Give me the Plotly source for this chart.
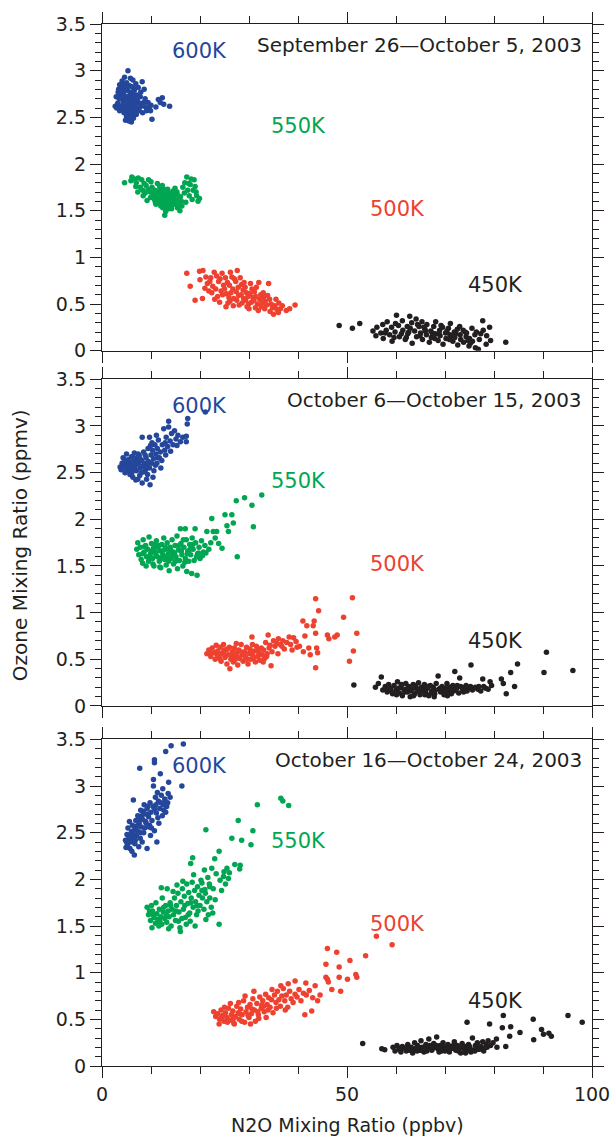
import plotly.graph_objects as go

# ---- Ozone vs N2O, grouped by potential-temperature level ----

period_titles = [
    "September 26\u2014October 5, 2003",
    "October 6\u2014October 15, 2003",
    "October 16\u2014October 24, 2003",
]
levels = ["600K", "550K", "500K", "450K"]
level_colors = ["#25479b", "#00a651", "#ee4130", "#231f20"]

# Period 1: September 26 - October 5
p1_600k = [(5.3,3.00),(4.6,2.93),(5.8,2.92),(4.1,2.89),(6.3,2.90),(5.0,2.87),(6.9,2.86),(3.6,2.85),(4.4,2.84),(5.5,2.84),(6.0,2.83),(3.9,2.81),(7.4,2.82),(4.8,2.80),(5.2,2.79),(6.6,2.79),(3.3,2.77),(4.2,2.76),(5.7,2.77),(6.2,2.75),(7.0,2.74),(3.7,2.74),(4.6,2.73),(5.1,2.72),(8.2,2.88),(8.6,2.80),(2.9,2.72),(3.5,2.70),(4.0,2.70),(4.9,2.69),(5.6,2.70),(6.4,2.69),(7.2,2.68),(2.7,2.62),(3.2,2.65),(4.3,2.66),(5.3,2.66),(6.0,2.65),(6.8,2.64),(7.7,2.65),(3.8,2.62),(4.7,2.62),(5.5,2.61),(6.3,2.61),(7.3,2.60),(8.0,2.62),(8.9,2.61),(9.6,2.60),(3.0,2.60),(4.1,2.58),(5.0,2.58),(5.8,2.57),(6.6,2.56),(7.6,2.57),(9.1,2.57),(4.5,2.55),(5.4,2.54),(6.1,2.53),(7.0,2.53),(8.3,2.55),(5.0,2.51),(5.7,2.50),(6.4,2.49),(4.8,2.47),(5.5,2.46),(6.0,2.45),(10.2,2.48),(11.5,2.69),(12.3,2.71),(11.9,2.66),(12.6,2.64),(13.8,2.62),(11.0,2.61),(8.8,2.70),(7.8,2.72),(6.7,2.72),(5.9,2.74),(4.5,2.78),(5.1,2.83),(6.5,2.81),(3.4,2.80),(7.9,2.77),(9.4,2.66),(10.0,2.63),(6.9,2.59),(5.2,2.63),(4.4,2.61),(3.6,2.57),(8.5,2.66),(9.9,2.57)]
p1_550k = [(4.6,1.80),(6.1,1.86),(6.6,1.84),(5.9,1.82),(7.4,1.85),(7.0,1.80),(8.1,1.83),(8.6,1.79),(6.9,1.76),(7.8,1.75),(8.3,1.72),(9.0,1.77),(9.4,1.73),(8.8,1.69),(9.8,1.70),(10.2,1.75),(10.5,1.68),(9.9,1.64),(10.8,1.72),(11.1,1.66),(11.4,1.70),(10.7,1.62),(11.7,1.63),(11.9,1.67),(12.2,1.60),(12.0,1.72),(12.5,1.65),(12.8,1.69),(12.9,1.61),(13.2,1.64),(13.5,1.58),(13.1,1.56),(12.6,1.57),(11.5,1.59),(11.0,1.57),(13.8,1.62),(14.0,1.67),(14.3,1.60),(14.6,1.64),(14.1,1.55),(13.6,1.52),(12.4,1.53),(13.0,1.49),(12.8,1.45),(14.8,1.57),(15.2,1.61),(15.0,1.68),(14.5,1.71),(13.4,1.73),(15.4,1.53),(15.7,1.58),(16.0,1.65),(16.5,1.75),(16.9,1.80),(17.3,1.86),(18.2,1.84),(18.0,1.78),(17.5,1.72),(16.8,1.69),(17.8,1.66),(18.6,1.72),(19.0,1.76),(18.4,1.62),(19.3,1.66),(19.6,1.60),(19.9,1.63),(17.1,1.59),(16.3,1.55),(12.3,1.77),(11.3,1.79),(10.0,1.81),(9.5,1.83),(13.7,1.69),(14.9,1.74),(12.7,1.73),(11.8,1.75),(10.4,1.65),(11.2,1.61),(12.1,1.63),(13.3,1.67),(14.4,1.63),(15.6,1.66),(13.9,1.59),(12.9,1.58),(11.6,1.68),(10.9,1.59),(15.3,1.70),(16.2,1.60),(18.8,1.83),(17.7,1.79),(19.2,1.70),(8.4,1.66),(9.2,1.61),(7.3,1.70),(14.2,1.52),(13.1,1.54),(15.9,1.50),(12.0,1.55)]
p1_500k = [(17.3,0.83),(18.0,0.69),(19.0,0.54),(19.9,0.85),(20.6,0.86),(21.2,0.79),(20.0,0.76),(22.0,0.74),(21.5,0.72),(20.5,0.56),(22.9,0.84),(23.4,0.80),(22.6,0.69),(23.2,0.66),(22.4,0.62),(23.8,0.74),(24.5,0.83),(24.1,0.77),(24.8,0.70),(24.3,0.64),(23.6,0.58),(24.0,0.52),(25.2,0.78),(25.6,0.73),(25.0,0.66),(25.4,0.61),(25.9,0.57),(26.2,0.84),(26.5,0.79),(26.0,0.70),(26.7,0.66),(26.3,0.62),(26.9,0.56),(27.6,0.86),(27.3,0.74),(27.8,0.68),(27.4,0.63),(27.9,0.59),(27.5,0.54),(28.2,0.78),(28.5,0.71),(28.8,0.65),(28.4,0.60),(28.9,0.56),(28.6,0.51),(29.2,0.68),(29.5,0.62),(29.8,0.58),(29.3,0.54),(29.9,0.50),(30.3,0.72),(30.6,0.66),(30.2,0.61),(30.8,0.57),(30.5,0.52),(31.1,0.63),(31.4,0.58),(31.0,0.54),(31.7,0.50),(31.3,0.46),(32.0,0.73),(32.4,0.60),(32.2,0.55),(32.7,0.51),(32.5,0.47),(33.0,0.57),(33.3,0.53),(33.6,0.49),(33.2,0.45),(34.0,0.72),(34.2,0.55),(34.5,0.50),(34.8,0.46),(34.3,0.42),(35.0,0.39),(35.3,0.48),(35.7,0.44),(36.1,0.51),(36.4,0.45),(36.0,0.41),(37.6,0.43),(38.3,0.45),(39.4,0.49),(26.8,0.48),(25.7,0.51),(23.0,0.55),(21.8,0.64),(27.0,0.77),(29.0,0.73),(31.5,0.68),(24.6,0.60),(28.0,0.49),(30.0,0.45),(32.9,0.62),(33.8,0.59),(22.2,0.78),(35.5,0.55),(21.0,0.67),(26.1,0.53),(29.6,0.47),(25.3,0.47),(31.9,0.43),(36.8,0.48)]
p1_450k = [(48.4,0.27),(51.1,0.24),(52.6,0.29),(55.3,0.21),(55.9,0.16),(56.1,0.25),(56.9,0.19),(57.3,0.28),(57.4,0.13),(58.0,0.22),(58.2,0.31),(58.7,0.17),(59.1,0.25),(59.2,0.10),(59.8,0.20),(60.1,0.38),(60.5,0.27),(60.7,0.15),(61.3,0.32),(61.4,0.22),(61.9,0.12),(62.3,0.26),(62.4,0.18),(62.8,0.37),(63.2,0.30),(63.3,0.08),(63.8,0.21),(64.1,0.34),(64.2,0.15),(64.7,0.26),(65.0,0.19),(65.3,0.31),(65.4,0.12),(65.9,0.23),(66.2,0.17),(66.3,0.28),(66.8,0.09),(67.1,0.21),(67.2,0.14),(67.7,0.26),(68.0,0.18),(68.1,0.31),(68.6,0.11),(68.9,0.22),(69.0,0.16),(69.5,0.25),(69.6,0.07),(70.1,0.19),(70.2,0.13),(70.7,0.24),(71.0,0.17),(71.1,0.29),(71.6,0.10),(71.9,0.20),(72.0,0.14),(72.5,0.23),(72.6,0.06),(73.1,0.17),(73.2,0.12),(73.7,0.22),(73.8,0.09),(74.3,0.15),(74.4,0.19),(74.9,0.05),(75.0,0.13),(75.5,0.24),(75.6,0.10),(76.1,0.17),(76.2,0.03),(76.8,0.015),(77.0,0.12),(77.7,0.32),(77.8,0.22),(78.4,0.07),(78.5,0.16),(79.1,0.25),(79.3,0.11),(82.4,0.09),(59.9,0.29),(61.1,0.18),(62.1,0.14),(62.9,0.24),(64.4,0.28),(64.9,0.16),(66.0,0.21),(67.4,0.19),(67.9,0.13),(69.2,0.27),(70.4,0.21),(70.9,0.12),(72.2,0.18),(73.0,0.26),(74.1,0.20),(75.2,0.08),(76.4,0.20),(57.8,0.19),(59.6,0.14),(62.6,0.20),(65.7,0.25),(68.8,0.18),(71.4,0.16),(74.7,0.11),(77.3,0.18)]

# Period 2: October 6 - October 15
p2_600k = [(3.9,2.53),(4.1,2.60),(4.3,2.66),(4.5,2.56),(4.7,2.50),(4.9,2.62),(5.0,2.70),(5.2,2.57),(5.4,2.53),(5.5,2.64),(5.7,2.48),(5.9,2.60),(6.0,2.67),(6.2,2.55),(6.3,2.45),(6.5,2.62),(6.6,2.71),(6.8,2.58),(7.0,2.52),(7.1,2.65),(7.3,2.43),(7.5,2.60),(7.6,2.68),(7.8,2.55),(8.0,2.50),(8.1,2.63),(8.2,2.39),(8.4,2.57),(8.5,2.72),(8.7,2.60),(8.9,2.53),(9.0,2.66),(9.2,2.58),(9.4,2.76),(9.5,2.62),(9.7,2.55),(9.8,2.37),(10.0,2.69),(10.1,2.60),(10.3,2.74),(10.5,2.65),(10.6,2.52),(10.8,2.80),(11.0,2.70),(11.2,2.60),(11.3,2.76),(11.5,2.85),(11.7,2.66),(11.9,2.72),(12.0,2.55),(12.3,2.80),(12.6,2.97),(12.8,2.74),(13.1,2.88),(13.4,2.78),(13.6,3.05),(13.6,2.99),(13.9,2.84),(14.2,2.92),(14.5,2.80),(14.8,2.95),(15.1,2.86),(15.5,2.90),(16.0,2.83),(16.5,2.88),(17.2,2.89),(17.2,2.83),(17.4,3.02),(17.5,3.08),(21.1,3.15),(8.2,2.88),(9.7,2.88),(10.2,2.82),(4.4,2.58),(5.1,2.52),(5.6,2.58),(6.1,2.50),(6.7,2.55),(7.2,2.61),(7.9,2.64),(6.4,2.57),(5.3,2.63),(4.8,2.55),(8.6,2.51),(9.3,2.48),(7.7,2.47),(6.9,2.42),(10.9,2.58),(11.4,2.66),(12.2,2.63),(13.0,2.69),(9.9,2.79),(8.8,2.69),(7.4,2.70),(6.5,2.66),(5.8,2.54),(4.6,2.64),(12.9,2.82),(11.1,2.90),(14.0,2.73),(15.3,2.79),(3.7,2.56),(10.4,2.45),(9.1,2.43)]
p2_550k = [(7.1,1.68),(7.3,1.75),(7.5,1.62),(7.8,1.70),(8.0,1.57),(8.3,1.53),(8.4,1.78),(8.6,1.65),(8.9,1.72),(9.1,1.60),(9.3,1.68),(9.5,1.55),(9.6,1.81),(9.9,1.63),(10.1,1.74),(10.3,1.58),(10.5,1.69),(10.6,1.50),(10.9,1.65),(11.1,1.77),(11.3,1.60),(11.4,1.70),(11.7,1.55),(11.9,1.66),(12.0,1.48),(12.2,1.73),(12.4,1.62),(12.6,1.80),(12.8,1.57),(13.0,1.68),(13.1,1.51),(13.3,1.75),(13.5,1.63),(13.7,1.45),(13.9,1.70),(14.1,1.58),(14.3,1.78),(14.5,1.65),(14.6,1.52),(14.9,1.72),(15.1,1.60),(15.3,1.82),(15.4,1.47),(15.6,1.67),(15.8,1.56),(16.0,1.90),(16.1,1.74),(16.3,1.62),(16.5,1.50),(16.7,1.70),(17.0,1.90),(17.0,1.58),(17.2,1.78),(17.3,1.44),(17.5,1.66),(17.7,1.55),(17.9,1.73),(18.1,1.62),(18.3,1.42),(18.4,1.80),(18.6,1.68),(18.8,1.56),(19.0,1.90),(19.1,1.75),(19.4,1.40),(19.5,1.63),(19.8,1.70),(20.0,1.58),(20.3,1.77),(20.7,1.65),(21.0,1.72),(21.4,1.87),(21.8,1.68),(22.2,1.75),(22.4,2.01),(22.7,1.87),(23.1,1.80),(23.4,1.87),(23.8,1.74),(24.5,1.69),(25.1,2.05),(25.5,1.93),(25.8,1.87),(26.5,2.05),(26.8,1.96),(27.4,2.20),(27.6,1.60),(29.1,2.23),(30.6,2.15),(30.9,1.92),(32.6,2.26),(8.3,1.63),(9.0,1.50),(10.2,1.66),(11.0,1.62),(12.1,1.58),(13.2,1.60),(14.0,1.67),(15.0,1.55),(16.2,1.66),(17.4,1.63),(18.5,1.73),(19.3,1.60),(11.6,1.72),(12.9,1.70),(14.4,1.61),(15.7,1.72),(16.9,1.54),(13.6,1.55),(10.7,1.73),(9.8,1.58),(12.3,1.66),(14.8,1.64),(16.6,1.78),(18.0,1.68),(19.7,1.64),(20.5,1.61),(21.2,1.64),(8.7,1.71),(10.4,1.52),(11.8,1.49)]
p2_500k = [(21.4,0.56),(21.8,0.60),(22.2,0.53),(22.5,0.62),(22.9,0.57),(23.1,0.50),(23.3,0.65),(23.6,0.59),(23.9,0.54),(24.1,0.63),(24.3,0.48),(24.6,0.57),(24.8,0.66),(25.1,0.52),(25.3,0.60),(25.5,0.45),(25.8,0.55),(26.0,0.63),(26.1,0.40),(26.3,0.50),(26.6,0.58),(26.8,0.47),(27.0,0.62),(27.2,0.53),(27.5,0.57),(27.7,0.44),(27.9,0.60),(28.1,0.51),(28.4,0.66),(28.6,0.55),(28.8,0.48),(29.1,0.58),(29.3,0.52),(29.5,0.63),(29.8,0.45),(30.0,0.56),(30.2,0.61),(30.4,0.50),(30.6,0.74),(30.8,0.54),(31.1,0.59),(31.3,0.47),(31.5,0.64),(31.8,0.53),(32.0,0.57),(32.2,0.49),(32.5,0.62),(32.7,0.55),(33.0,0.60),(33.2,0.51),(33.4,0.68),(33.7,0.56),(33.9,0.76),(34.1,0.62),(34.5,0.43),(34.7,0.58),(35.0,0.70),(35.3,0.64),(35.7,0.67),(36.0,0.72),(36.4,0.66),(36.7,0.64),(37.2,0.61),(37.7,0.68),(38.2,0.74),(38.5,0.66),(39.1,0.73),(39.6,0.69),(40.3,0.64),(41.0,0.91),(41.1,0.58),(41.4,0.75),(41.8,0.86),(42.2,0.62),(42.5,0.55),(43.1,0.86),(43.3,0.91),(43.6,0.78),(43.6,1.15),(43.6,0.41),(43.8,0.62),(44.0,0.57),(44.2,1.02),(46.0,0.76),(46.3,0.72),(47.5,0.74),(48.0,0.76),(49.3,0.95),(50.5,0.48),(51.1,1.16),(51.3,0.59),(52.0,0.78),(22.0,0.58),(23.5,0.55),(24.9,0.60),(26.4,0.54),(27.8,0.52),(29.0,0.55),(30.3,0.58),(31.9,0.60),(33.6,0.53),(25.6,0.61),(28.3,0.58),(31.0,0.52),(34.3,0.65),(36.9,0.70),(39.8,0.63),(24.0,0.51),(27.1,0.49),(29.6,0.50),(32.9,0.47),(38.8,0.60),(35.9,0.56),(30.7,0.66),(27.4,0.67),(25.0,0.55)]
p2_450k = [(51.4,0.225),(55.8,0.20),(56.4,0.24),(57.0,0.31),(57.3,0.17),(57.8,0.21),(58.2,0.15),(58.5,0.23),(58.9,0.19),(59.3,0.13),(59.6,0.22),(60.0,0.17),(60.3,0.26),(60.7,0.14),(61.0,0.20),(61.3,0.11),(61.6,0.18),(62.0,0.24),(62.3,0.15),(62.6,0.21),(62.9,0.10),(63.2,0.18),(63.5,0.23),(63.8,0.13),(64.1,0.19),(64.4,0.16),(64.6,0.25),(64.9,0.12),(65.2,0.20),(65.5,0.17),(65.8,0.23),(66.1,0.14),(66.4,0.19),(66.7,0.11),(67.0,0.22),(67.3,0.16),(67.6,0.20),(67.9,0.13),(68.2,0.24),(68.6,0.32),(68.8,0.18),(69.1,0.15),(69.4,0.21),(69.8,0.12),(70.1,0.19),(70.4,0.24),(70.7,0.16),(71.0,0.20),(71.3,0.13),(71.6,0.22),(72.0,0.37),(72.0,0.17),(72.4,0.19),(72.8,0.14),(73.0,0.30),(73.2,0.21),(73.6,0.18),(74.1,0.20),(74.5,0.16),(75.0,0.19),(75.3,0.44),(75.6,0.17),(76.2,0.20),(76.7,0.18),(77.3,0.16),(77.7,0.29),(77.9,0.21),(78.3,0.19),(79.2,0.26),(79.5,0.22),(81.5,0.29),(81.9,0.24),(82.5,0.13),(83.4,0.36),(84.2,0.21),(84.8,0.45),(90.2,0.36),(90.7,0.575),(96.1,0.38),(58.0,0.18),(59.0,0.16),(60.5,0.19),(61.8,0.15),(63.0,0.16),(64.0,0.22),(65.0,0.15),(66.0,0.18),(67.2,0.14),(68.0,0.17),(69.0,0.19),(70.0,0.15),(71.2,0.18),(72.5,0.22),(73.8,0.15),(75.2,0.21),(63.6,0.11),(65.9,0.12),(67.8,0.10),(70.5,0.11),(62.4,0.19),(64.7,0.18),(66.5,0.21),(69.3,0.17),(71.8,0.16),(74.3,0.22),(76.9,0.21),(78.8,0.18),(61.1,0.23),(60.1,0.12)]

# Period 3: October 16 - October 24
p3_600k = [(16.6,3.45),(14.1,3.43),(13.0,3.37),(10.7,3.28),(10.7,3.25),(7.7,3.19),(11.9,3.13),(16.3,3.00),(13.6,3.04),(10.5,3.07),(10.5,3.00),(12.4,2.97),(11.3,2.93),(13.9,2.88),(13.5,2.92),(12.8,2.86),(12.1,2.90),(11.5,2.84),(10.9,2.88),(6.4,2.85),(9.8,2.82),(12.5,2.80),(13.2,2.78),(11.8,2.76),(10.4,2.78),(9.2,2.76),(8.6,2.80),(11.1,2.71),(10.0,2.72),(8.8,2.70),(7.9,2.74),(9.5,2.67),(7.3,2.68),(8.3,2.64),(6.9,2.63),(10.2,2.63),(9.0,2.60),(7.6,2.60),(6.2,2.58),(5.6,2.62),(8.0,2.56),(6.8,2.55),(5.3,2.55),(9.6,2.56),(7.2,2.52),(6.0,2.51),(5.1,2.48),(8.5,2.50),(7.0,2.47),(6.5,2.45),(5.5,2.44),(4.8,2.42),(7.8,2.44),(5.9,2.40),(5.2,2.37),(6.7,2.38),(9.2,2.33),(11.2,2.40),(6.6,2.26),(7.5,2.35),(5.7,2.33),(4.9,2.34),(6.1,2.30),(8.2,2.40),(9.9,2.47),(10.7,2.52),(11.6,2.60),(12.3,2.68),(13.0,2.72),(8.9,2.62),(7.4,2.58),(6.3,2.48),(5.8,2.44),(9.4,2.70),(10.8,2.75),(12.0,2.82),(12.9,2.84),(8.1,2.68),(7.0,2.57),(6.4,2.52),(5.4,2.47),(9.7,2.58),(8.7,2.55),(11.4,2.66),(10.1,2.55),(7.9,2.50),(6.8,2.42),(5.0,2.40),(13.4,2.82),(11.0,2.80),(9.3,2.78),(8.4,2.73),(7.7,2.64),(12.6,2.74)]
p3_550k = [(36.5,2.87),(36.9,2.84),(38.1,2.79),(31.7,2.80),(27.8,2.63),(30.8,2.52),(21.2,2.53),(26.5,2.44),(28.5,2.42),(30.4,2.37),(23.9,2.30),(23.0,2.22),(18.5,2.23),(18.1,2.17),(28.2,2.15),(28.1,2.11),(25.5,2.12),(25.8,2.01),(24.9,2.08),(23.3,2.06),(24.1,1.99),(24.8,2.03),(21.6,2.02),(20.4,1.96),(22.0,1.92),(21.0,1.89),(12.1,1.91),(23.9,1.52),(16.0,1.44),(10.2,1.48),(9.2,1.70),(9.5,1.62),(9.9,1.56),(10.3,1.66),(10.6,1.59),(10.9,1.53),(11.2,1.63),(11.4,1.57),(11.7,1.68),(12.0,1.60),(12.2,1.52),(12.5,1.65),(12.8,1.58),(13.0,1.72),(13.2,1.54),(13.5,1.66),(13.7,1.60),(13.9,1.75),(14.1,1.50),(14.3,1.68),(14.6,1.62),(14.8,1.80),(15.0,1.56),(15.2,1.72),(15.5,1.85),(15.7,1.65),(15.9,1.48),(16.1,1.76),(16.4,1.90),(16.6,1.68),(16.8,1.82),(17.0,1.59),(17.3,1.95),(17.5,1.74),(17.7,1.86),(17.9,1.64),(18.2,1.80),(18.4,1.97),(18.6,1.70),(18.9,1.88),(19.1,1.76),(19.3,1.62),(19.5,1.92),(19.8,1.83),(20.0,1.72),(20.2,1.99),(20.5,1.80),(20.8,1.68),(21.1,1.85),(21.4,1.76),(21.7,1.62),(22.0,1.80),(22.3,1.70),(22.7,1.90),(23.1,1.78),(13.3,1.90),(14.5,1.87),(15.3,1.94),(16.3,1.58),(17.2,1.52),(18.0,1.55),(19.0,1.50),(11.0,1.75),(12.3,1.80),(10.1,1.72),(11.6,1.50),(13.6,1.47),(15.6,1.55),(17.6,1.62),(19.6,1.66),(21.2,1.57),(22.6,1.64),(16.5,1.98),(18.7,2.05),(20.9,2.10),(22.4,2.12),(26.0,2.07),(27.1,2.16),(24.4,1.88),(25.2,1.95),(19.4,1.72),(14.0,1.72),(12.6,1.70),(16.9,1.72),(18.1,1.75),(20.4,1.88),(21.9,1.95),(15.1,1.66),(13.1,1.62),(11.8,1.55),(10.5,1.62),(9.7,1.66)]
p3_500k = [(56.0,1.39),(59.2,1.30),(46.0,1.26),(47.9,1.22),(53.8,1.18),(50.6,1.13),(45.7,1.09),(48.4,1.06),(51.8,0.98),(52.0,0.95),(48.4,0.95),(50.1,0.93),(45.7,0.95),(46.0,0.93),(46.2,0.90),(39.4,0.91),(41.6,0.89),(43.5,0.86),(46.9,0.82),(48.7,0.80),(44.5,0.76),(44.0,0.70),(42.8,0.59),(41.4,0.55),(22.8,0.58),(23.2,0.53),(23.6,0.56),(24.0,0.50),(24.3,0.60),(24.6,0.54),(24.9,0.48),(25.2,0.57),(25.5,0.52),(25.8,0.62),(26.1,0.49),(26.4,0.55),(26.7,0.59),(26.9,0.46),(27.2,0.53),(27.5,0.64),(27.8,0.57),(28.0,0.50),(28.3,0.61),(28.6,0.55),(28.9,0.70),(29.1,0.47),(29.4,0.58),(29.7,0.63),(30.0,0.52),(30.2,0.66),(30.5,0.56),(30.8,0.72),(31.1,0.60),(31.3,0.48),(31.6,0.67),(31.9,0.55),(32.2,0.74),(32.5,0.62),(32.8,0.70),(33.1,0.58),(33.4,0.77),(33.7,0.66),(34.0,0.73),(34.3,0.63),(34.6,0.71),(34.9,0.57),(35.2,0.76),(35.5,0.68),(35.8,0.80),(36.1,0.71),(36.4,0.64),(36.7,0.75),(37.0,0.83),(37.3,0.70),(37.6,0.76),(37.9,0.63),(38.3,0.80),(38.6,0.72),(39.0,0.68),(39.4,0.77),(39.8,0.74),(40.2,0.82),(40.6,0.70),(41.1,0.78),(41.7,0.76),(42.3,0.81),(43.0,0.73),(23.9,0.45),(25.6,0.47),(27.0,0.45),(28.5,0.48),(30.3,0.45),(32.0,0.51),(33.5,0.52),(25.0,0.63),(26.2,0.67),(27.9,0.68),(29.2,0.75),(31.0,0.80),(32.6,0.65),(34.7,0.82),(36.5,0.86),(38.0,0.88),(26.8,0.51),(29.8,0.54),(31.8,0.58),(33.9,0.60),(35.6,0.62),(37.4,0.60),(24.4,0.52),(28.1,0.56),(30.6,0.61),(33.0,0.64)]
p3_450k = [(53.2,0.24),(57.1,0.185),(57.7,0.175),(59.4,0.20),(59.8,0.16),(60.2,0.22),(60.6,0.18),(61.0,0.15),(61.3,0.21),(61.7,0.19),(62.1,0.16),(62.4,0.23),(62.8,0.17),(63.1,0.20),(63.4,0.14),(63.8,0.25),(64.1,0.19),(64.4,0.22),(64.8,0.17),(65.1,0.27),(65.4,0.20),(65.7,0.15),(66.1,0.23),(66.4,0.19),(66.7,0.29),(67.0,0.21),(67.3,0.17),(67.7,0.24),(68.0,0.20),(68.3,0.31),(68.6,0.18),(69.0,0.22),(69.3,0.16),(69.6,0.25),(69.9,0.20),(70.2,0.18),(70.6,0.23),(70.9,0.15),(71.2,0.21),(71.5,0.19),(71.9,0.26),(72.2,0.17),(72.5,0.22),(72.8,0.20),(73.2,0.14),(73.5,0.24),(73.8,0.19),(74.1,0.21),(74.5,0.47),(74.4,0.16),(74.8,0.23),(75.1,0.19),(75.6,0.30),(75.8,0.17),(76.2,0.22),(76.6,0.25),(76.9,0.18),(77.3,0.21),(77.7,0.26),(78.0,0.19),(78.4,0.23),(78.8,0.27),(79.1,0.45),(79.3,0.22),(79.8,0.25),(80.5,0.29),(80.6,0.20),(81.7,0.41),(81.9,0.54),(82.4,0.21),(83.2,0.32),(83.4,0.42),(85.3,0.36),(88.0,0.50),(88.1,0.28),(89.7,0.39),(90.1,0.34),(91.2,0.35),(91.7,0.32),(95.1,0.54),(98.0,0.47),(62.0,0.19),(63.5,0.18),(65.0,0.17),(66.3,0.16),(67.5,0.19),(68.8,0.15),(70.0,0.16),(71.0,0.18),(72.7,0.16),(74.0,0.18),(75.3,0.15),(76.4,0.20),(77.9,0.16),(64.6,0.20),(66.9,0.22),(69.2,0.19),(71.7,0.22),(73.0,0.19),(75.0,0.21),(77.0,0.18),(60.9,0.19),(62.6,0.20),(64.3,0.16),(66.0,0.20),(68.2,0.22),(70.4,0.20),(72.0,0.19),(74.2,0.14),(76.1,0.16),(78.6,0.20)]

x_ticks = [0, 50, 100]
y_ticks = [0, 0.5, 1, 1.5, 2, 2.5, 3, 3.5]

periods = [
    [p1_600k, p1_550k, p1_500k, p1_450k],
    [p2_600k, p2_550k, p2_500k, p2_450k],
    [p3_600k, p3_550k, p3_500k, p3_450k],
]

# where each level name sits inside a panel (data coordinates)
label_xy = [(19.8, 3.21), (40.0, 2.41), (60.4, 1.52), (80.4, 0.70)]

FONT = "DejaVu Sans"
INK = "#231f20"
domains = [(0.6865, 1.0), (0.3455, 0.659), (0.0, 0.3135)]

fig = go.Figure()
annotations = []
layout = {}

for i, clusters in enumerate(periods):
    sfx = "" if i == 0 else str(i + 1)
    for pts, color in zip(clusters, level_colors):
        xs = [p[0] for p in pts]
        ys = [p[1] for p in pts]
        fig.add_trace(go.Scatter(
            x=xs, y=ys, mode="markers",
            marker=dict(size=5.5, color=color, line=dict(width=0)),
            xaxis="x" + sfx, yaxis="y" + sfx, showlegend=False,
            hoverinfo="skip",
        ))
    layout["xaxis" + sfx] = dict(
        domain=[0, 1], anchor="y" + sfx, range=[0, 100], automargin=False,
        tickmode="array", tickvals=x_ticks, ticktext=[str(v) for v in x_ticks],
        showticklabels=(i == 2),
        ticks="outside", ticklen=11, tickwidth=1.3, tickcolor=INK,
        minor=dict(dtick=10, tick0=0, ticks="outside", ticklen=7,
                   tickwidth=1.3, tickcolor=INK, showgrid=False),
        showline=True, linecolor=INK, linewidth=1.3, mirror="ticks",
        showgrid=False, zeroline=False,
        tickfont=dict(family=FONT, size=19, color=INK),
    )
    layout["yaxis" + sfx] = dict(
        domain=list(domains[i]), anchor="x" + sfx, range=[0, 3.5], automargin=False,
        tickmode="array", tickvals=y_ticks, ticktext=[f"{v:g}" for v in y_ticks],
        ticks="outside", ticklen=11, tickwidth=1.3, tickcolor=INK,
        minor=dict(dtick=0.1, tick0=0, ticks="outside", ticklen=6,
                   tickwidth=1.3, tickcolor=INK, showgrid=False),
        showline=True, linecolor=INK, linewidth=1.3, mirror="ticks",
        showgrid=False, zeroline=False,
        tickfont=dict(family=FONT, size=19, color=INK),
    )
    annotations.append(dict(
        x=98.3, y=3.28, xref="x" + sfx, yref="y" + sfx,
        text=period_titles[i], showarrow=False, xanchor="right", yanchor="middle",
        font=dict(family=FONT, size=20, color=INK),
    ))
    for name, color, (lx, ly) in zip(levels, level_colors, label_xy):
        annotations.append(dict(
            x=lx, y=ly, xref="x" + sfx, yref="y" + sfx, text=name,
            showarrow=False, xanchor="center", yanchor="middle",
            font=dict(family=FONT, size=21, color=color),
        ))

annotations.append(dict(
    x=-0.167, y=0.5, xref="paper", yref="paper", text="Ozone Mixing Ratio (ppmv)",
    textangle=-90, showarrow=False, xanchor="center", yanchor="middle",
    font=dict(family=FONT, size=20, color=INK),
))
annotations.append(dict(
    x=0.5, y=-0.057, xref="paper", yref="paper", text="N2O Mixing Ratio (ppbv)",
    showarrow=False, xanchor="center", yanchor="middle",
    font=dict(family=FONT, size=19, color=INK),
))

fig.update_layout(
    width=615, height=1141,
    margin=dict(l=102, r=23, t=24, b=75, autoexpand=False),
    paper_bgcolor="white", plot_bgcolor="white",
    annotations=annotations,
    **layout,
)

fig.write_html("out.html")
